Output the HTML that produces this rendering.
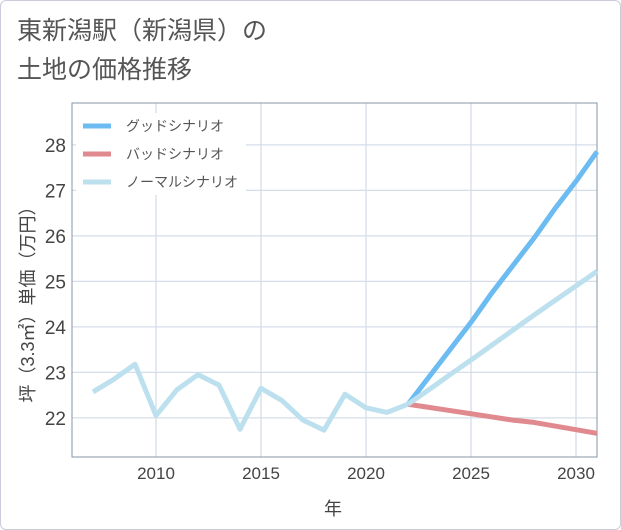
<!DOCTYPE html>
<html><head><meta charset="utf-8"><style>
body{margin:0;width:621px;height:530px;background:#fff;font-family:"Liberation Sans","Noto Sans CJK JP",sans-serif;overflow:hidden}
#card{position:absolute;left:0;top:0;width:619px;height:528px;border:1px solid #ccd;border-radius:6px}
#title{position:absolute;left:17px;top:12px;font-size:25px;line-height:39px;color:#555}
</style></head><body>
<div id="card"></div>
<div id="title">東新潟駅（新潟県）の<br>土地の価格推移</div>
<svg id="chart" width="621" height="530" style="position:absolute;left:0;top:0"></svg>
<script>
const years=[2007,2008,2009,2010,2011,2012,2013,2014,2015,2016,2017,2018,2019,2020,2021,2022];
const histVals=[22.57,22.85,23.18,22.05,22.62,22.95,22.72,21.75,22.65,22.38,21.95,21.73,22.52,22.22,22.12,22.3];
const futYears=[2022,2023,2024,2025,2026,2027,2028,2029,2030,2031];
const goodVals=[22.3,22.9,23.5,24.1,24.75,25.35,25.95,26.6,27.2,27.85];
const badVals=[22.3,22.23,22.16,22.09,22.02,21.95,21.9,21.82,21.74,21.66];
const normVals=[22.3,22.62,22.95,23.27,23.6,23.93,24.26,24.58,24.9,25.22];
const xTicks=[2010,2015,2020,2025,2030];
const yTicks=[22,23,24,25,26,27,28];
const L=72,R=597,T=103,B=457,X0=2006,X1=2031,Y0=21.14,Y1=28.92;
const xs=v=>L+(v-X0)/(X1-X0)*(R-L);
const ys=v=>B-(v-Y0)/(Y1-Y0)*(B-T);
const svg=document.getElementById('chart');const NS='http://www.w3.org/2000/svg';
function mk(t,a,p){const e=document.createElementNS(NS,t);for(const k in a)e.setAttribute(k,a[k]);(p||svg).appendChild(e);return e;}
yTicks.forEach(v=>{const l=mk('line',{x1:L,x2:R,y1:ys(v),y2:ys(v),stroke:'#d5dde8','stroke-width':1.3});


const t=mk('text',{x:L-6,y:ys(v)+7,'text-anchor':'end','font-size':19,fill:'#444'});t.textContent=v;

});
xTicks.forEach(v=>{const l=mk('line',{x1:xs(v),x2:xs(v),y1:T,y2:B,stroke:'#d5dde8','stroke-width':1.3});


const t=mk('text',{x:xs(v),y:B+22,'text-anchor':'middle','font-size':17,fill:'#444'});t.textContent=v;

});
const fr=mk('rect',{x:L,y:T,width:R-L,height:B-T,fill:'none',stroke:'#8a96a3','stroke-width':1});


function line(xv,yv,c,name){const p=mk('polyline',{points:xv.map((x,i)=>xs(x)+','+ys(yv[i])).join(' '),fill:'none',stroke:c,'stroke-width':5,'stroke-linejoin':'round'});

}
line(futYears,badVals,'#e08a8f','bad-scenario-line');
line(futYears,goodVals,'#6cbcf2','good-scenario-line');
line(futYears,normVals,'#bde0ef','normal-scenario-line');
line(years,histVals,'#bde0ef','historical-line');
const lg=[['グッドシナリオ','#6cbcf2'],['バッドシナリオ','#e08a8f'],['ノーマルシナリオ','#bde0ef']];
mk('rect',{x:76,y:113,width:170,height:82,fill:'#fff'});
lg.forEach((d,i)=>{const y=126+i*28;const g=mk('g',{});


mk('line',{x1:83,x2:111,y1:y,y2:y,stroke:d[1],'stroke-width':5},g);
const t=mk('text',{x:126,y:y+5,'font-size':14,fill:'#555'},g);t.textContent=d[0];});
const yt=mk('text',{transform:'translate(34,300) rotate(-90)','text-anchor':'middle','font-size':18,fill:'#444'});yt.textContent='坪（3.3㎡）単価（万円）';


const xt=mk('text',{x:333,y:515,'text-anchor':'middle','font-size':18,fill:'#444'});xt.textContent='年';


</script>
</body></html>
